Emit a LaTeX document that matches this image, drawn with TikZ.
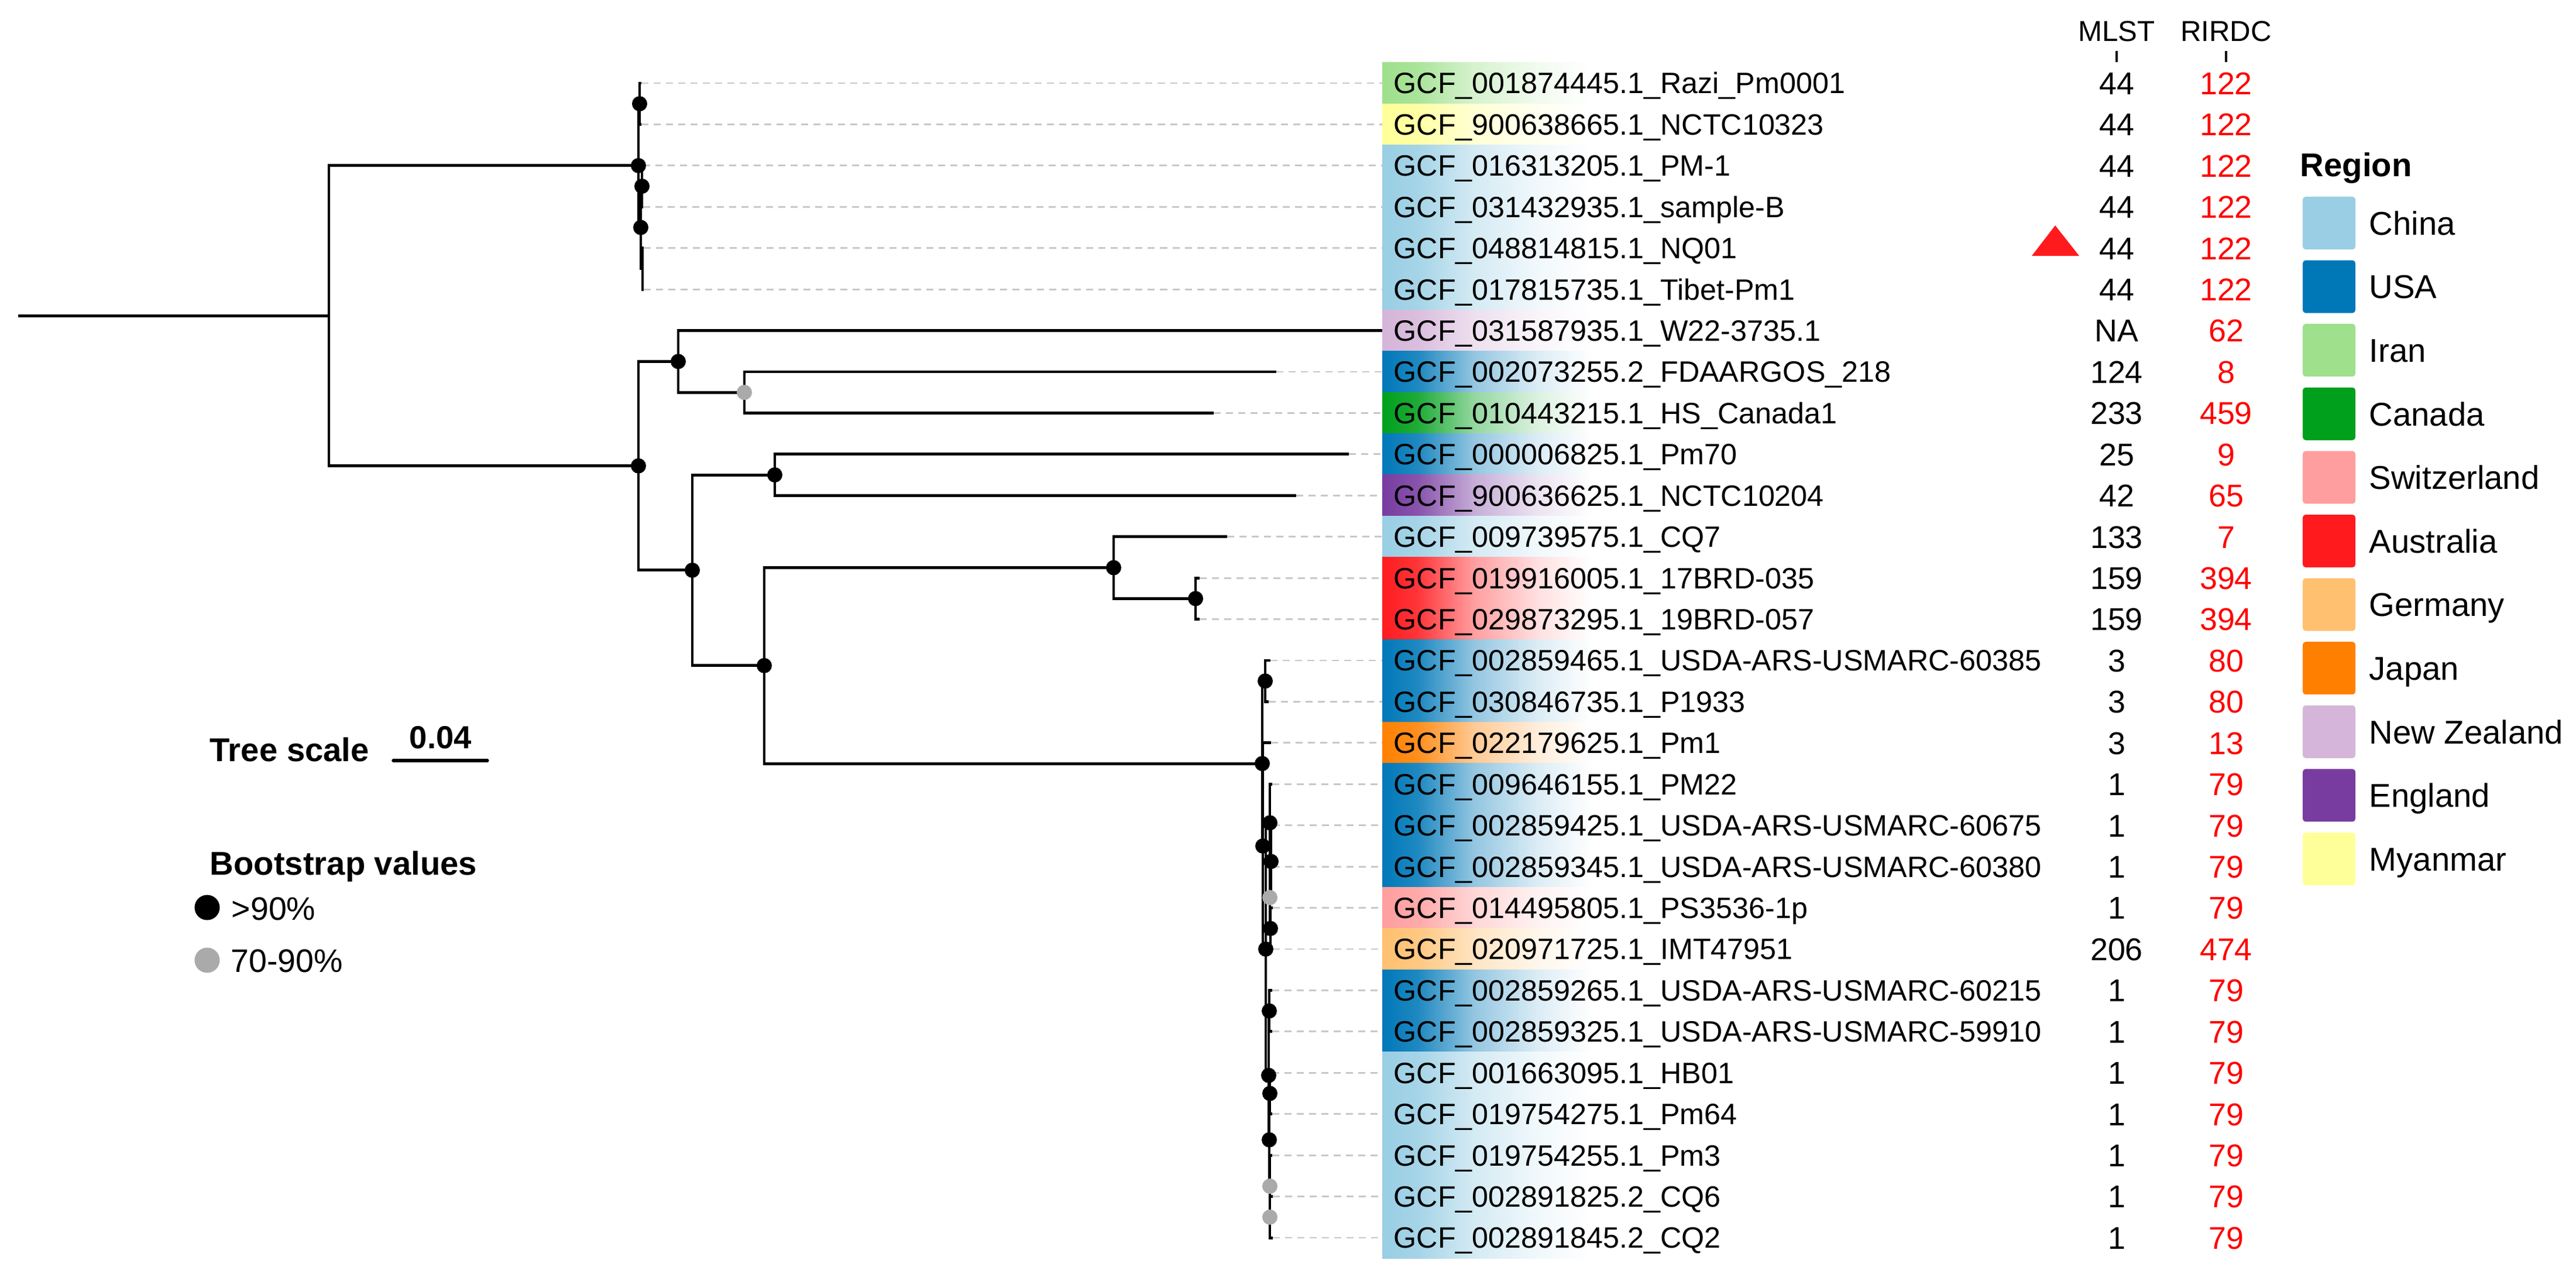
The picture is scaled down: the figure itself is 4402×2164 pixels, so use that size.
\documentclass[tikz,border=0pt]{standalone}
\usepackage{fontspec}
\setmainfont{Liberation Sans}
\usepackage{tikz}

\definecolor{china}{RGB}{153,206,228}
\definecolor{usa}{RGB}{0,120,184}
\definecolor{iran}{RGB}{158,224,140}
\definecolor{canada}{RGB}{0,160,28}
\definecolor{swiss}{RGB}{255,158,158}
\definecolor{australia}{RGB}{255,26,30}
\definecolor{germany}{RGB}{255,192,112}
\definecolor{japan}{RGB}{255,128,0}
\definecolor{newzealand}{RGB}{213,181,217}
\definecolor{england}{RGB}{120,60,160}
\definecolor{myanmar}{RGB}{255,255,153}
\definecolor{guidegray}{RGB}{200,200,200}
\definecolor{midgray}{RGB}{170,170,170}
\definecolor{stred}{RGB}{255,0,0}
\colorlet{bandcol}{white}
\pgfdeclarehorizontalshading[bandcol]{bandfade}{100bp}{color(0bp)=(bandcol); color(25bp)=(bandcol); color(33.5bp)=(bandcol!88!white); color(47bp)=(bandcol!42!white); color(62bp)=(bandcol!14!white); color(75bp)=(white); color(100bp)=(white)}

\begin{document}
\begin{tikzpicture}[x=0.01cm, y=-0.01cm,
    declare function={ry(\r)=142+70.43*(\r-1);},
    branch/.style={line width=1.4pt},
    guide/.style={draw=guidegray, line width=0.8pt, dash pattern=on 0.12cm off 0.09cm},
    lab/.style={anchor=west, inner xsep=0.19cm, inner ysep=0pt, font=\fontsize{14.3pt}{17pt}\selectfont, text height=10.2pt, text depth=0pt},
    val/.style={inner sep=0pt, font=\fontsize{15.3pt}{18pt}\selectfont, text height=11pt, text depth=0pt},
    hdr/.style={inner sep=0pt, font=\fontsize{14pt}{17pt}\selectfont, text height=10pt, text depth=0pt},
    legtext/.style={anchor=west, inner sep=0pt, font=\fontsize{16pt}{19pt}\selectfont, text height=11.5pt, text depth=0pt},
    legtitle/.style={legtext, font=\fontsize{16pt}{19pt}\selectfont\bfseries},
    bshigh/.style={fill=black},
    bsmid/.style={fill=midgray},
    mlsttick/.style={line width=1pt}]
  \useasboundingbox (0,0) rectangle (4402,2164);

  \foreach \i/\reg/\lbl/\mlst/\rirdc in {
      1/iran/GCF\_001874445.1\_Razi\_Pm0001/44/122,
      2/myanmar/GCF\_900638665.1\_NCTC10323/44/122,
      3/china/GCF\_016313205.1\_PM-1/44/122,
      4/china/GCF\_031432935.1\_sample-B/44/122,
      5/china/GCF\_048814815.1\_NQ01/44/122,
      6/china/GCF\_017815735.1\_Tibet-Pm1/44/122,
      7/newzealand/GCF\_031587935.1\_W22-3735.1/NA/62,
      8/usa/GCF\_002073255.2\_FDAARGOS\_218/124/8,
      9/canada/GCF\_010443215.1\_HS\_Canada1/233/459,
      10/usa/GCF\_000006825.1\_Pm70/25/9,
      11/england/GCF\_900636625.1\_NCTC10204/42/65,
      12/china/GCF\_009739575.1\_CQ7/133/7,
      13/australia/GCF\_019916005.1\_17BRD-035/159/394,
      14/australia/GCF\_029873295.1\_19BRD-057/159/394,
      15/usa/GCF\_002859465.1\_USDA-ARS-USMARC-60385/3/80,
      16/usa/GCF\_030846735.1\_P1933/3/80,
      17/japan/GCF\_022179625.1\_Pm1/3/13,
      18/usa/GCF\_009646155.1\_PM22/1/79,
      19/usa/GCF\_002859425.1\_USDA-ARS-USMARC-60675/1/79,
      20/usa/GCF\_002859345.1\_USDA-ARS-USMARC-60380/1/79,
      21/swiss/GCF\_014495805.1\_PS3536-1p/1/79,
      22/germany/GCF\_020971725.1\_IMT47951/206/474,
      23/usa/GCF\_002859265.1\_USDA-ARS-USMARC-60215/1/79,
      24/usa/GCF\_002859325.1\_USDA-ARS-USMARC-59910/1/79,
      25/china/GCF\_001663095.1\_HB01/1/79,
      26/china/GCF\_019754275.1\_Pm64/1/79,
      27/china/GCF\_019754255.1\_Pm3/1/79,
      28/china/GCF\_002891825.2\_CQ6/1/79,
      29/china/GCF\_002891845.2\_CQ2/1/79} {
    \colorlet{bandcol}{\reg}
    \shade[shading=bandfade] (2362,{ry(\i)-35.4}) rectangle (2720,{ry(\i)+35.4});
    \node[lab] (l\i) at (2362,{ry(\i)}) {\lbl};
    \node[val] (m\i) at (3617,{ry(\i)}) {\mlst};
    \node[val, text=stred] (r\i) at (3804,{ry(\i)}) {\rirdc};
  }

  \node[hdr] (hmlst) at (3617,53) {MLST};
  \node[hdr] (hrirdc) at (3804,53) {RIRDC};
  \draw[mlsttick] (3617,87) -- (3617,106);
  \draw[mlsttick] (3804,87) -- (3804,106);
  \fill[australia] (3512,385) -- (3472,437) -- (3553,437) -- cycle;

  \foreach \i/\x in {1/1096,2/1096,3/1099,4/1099,5/1100,6/1100,7/2362,8/2181,9/2074,
      10/2305,11/2215,12/2097,13/2050,14/2050,15/2171,16/2168,17/2172,18/2174,19/2175,
      20/2175,21/2175,22/2175,23/2174,24/2174,25/2174,26/2174,27/2174,28/2175,29/2175}
    \coordinate (t\i) at (\x,{ry(\i)});

  \coordinate (start) at (31,{ry(6.640625)});
  \coordinate (root) at (562,{ry(6.640625)});
  \coordinate (nA) at (1091,{ry(3)});
  \coordinate (n12) at (1093,{ry(1.5)});
  \coordinate (nB) at (1095,{ry(4.5)});
  \coordinate (n34) at (1097,{ry(3.5)});
  \coordinate (n56) at (1098,{ry(5.5)});
  \coordinate (nL) at (1091,{ry(10.28125)});
  \coordinate (nM) at (1159,{ry(7.75)});
  \coordinate (nN) at (1272,{ry(8.5)});
  \coordinate (nO) at (1183,{ry(12.8125)});
  \coordinate (nP) at (1324,{ry(10.5)});
  \coordinate (nQ) at (1306,{ry(15.125)});
  \coordinate (nR) at (1903,{ry(12.75)});
  \coordinate (nT) at (2043,{ry(13.5)});
  \coordinate (nS) at (2157,{ry(17.5)});
  \coordinate (n1516) at (2162,{ry(15.5)});
  \coordinate (n1729) at (2158,{ry(19.5)});
  \coordinate (n1829) at (2163,{ry(22)});
  \coordinate (n1822) at (2170,{ry(18.9375)});
  \coordinate (n1922) at (2172,{ry(19.875)});
  \coordinate (n2022) at (2170,{ry(20.75)});
  \coordinate (n2122) at (2171,{ry(21.5)});
  \coordinate (n2329) at (2168,{ry(25.0625)});
  \coordinate (n2324) at (2169,{ry(23.5)});
  \coordinate (n2529) at (2169,{ry(26.625)});
  \coordinate (n2526) at (2170,{ry(25.5)});
  \coordinate (n2729) at (2170,{ry(27.75)});
  \coordinate (n2829) at (2170,{ry(28.5)});

  \foreach \i in {1,...,6,8,9,...,29}
    \draw[guide] (t\i) -- (l\i.west);

  \draw[branch] (start) -- (root);
  \foreach \p/\c in {root/nA,root/nL,nA/n12,nA/nB,n12/t1,n12/t2,nB/n34,nB/n56,
      n34/t3,n34/t4,n56/t5,n56/t6,nL/nM,nL/nO,nM/t7,nM/nN,nN/t8,nN/t9,nO/nP,nO/nQ,
      nP/t10,nP/t11,nQ/nR,nQ/nS,nR/t12,nR/nT,nT/t13,nT/t14,nS/n1516,nS/n1729,
      n1516/t15,n1516/t16,n1729/t17,n1729/n1829,n1829/n1822,n1829/n2329,
      n1822/t18,n1822/n1922,n1922/t19,n1922/n2022,n2022/t20,n2022/n2122,
      n2122/t21,n2122/t22,n2329/n2324,n2329/n2529,n2324/t23,n2324/t24,
      n2529/n2526,n2529/n2729,n2526/t25,n2526/t26,n2729/t27,n2729/n2829,
      n2829/t28,n2829/t29}
    \draw[branch] (\p) |- (\c);

  \foreach \n in {nA,n12,nB,n34,nL,nM,nO,nP,nQ,nR,nT,nS,n1516,n1729,n1829,
      n1822,n1922,n2122,n2329,n2324,n2529,n2526}
    \fill[bshigh] (\n) circle (0.13cm);
  \foreach \n in {nN,n2022,n2729,n2829}
    \fill[bsmid] (\n) circle (0.13cm);

  \node[legtitle] (region) at (3930,281) {Region};
  \foreach \c/\t [count=\k from 0] in {china/China,usa/USA,iran/Iran,canada/Canada,
      swiss/Switzerland,australia/Australia,germany/Germany,japan/Japan,
      newzealand/New Zealand,england/England,myanmar/Myanmar} {
    \fill[\c, rounded corners=0.05cm] (3935,{381+108.6*\k-45}) rectangle (4025,{381+108.6*\k+45});
    \node[legtext] (leg\k) at (4048,{381+108.6*\k}) {\t};
  }

  \node[legtitle] (treescale) at (358,1280) {Tree scale};
  \coordinate (sbl) at (672,1299);
  \coordinate (sbr) at (833,1299);
  \draw[line width=1.5pt, line cap=round] (sbl) -- (sbr);
  \node[inner sep=0pt, font=\fontsize{15.5pt}{18pt}\selectfont\bfseries, text height=11pt, text depth=0pt] (sbval) at (753,1259) {0.04};

  \node[legtitle] (bstitle) at (358,1474) {Bootstrap values};
  \fill[bshigh] (354,1550) circle (0.215cm);
  \node[legtext, font=\fontsize{15.8pt}{19pt}\selectfont] (bshi) at (395,1551) {>90\%};
  \fill[bsmid] (354,1640) circle (0.215cm);
  \node[legtext, font=\fontsize{15.8pt}{19pt}\selectfont] (bsmd) at (394,1640) {70-90\%};
\end{tikzpicture}
\end{document}
